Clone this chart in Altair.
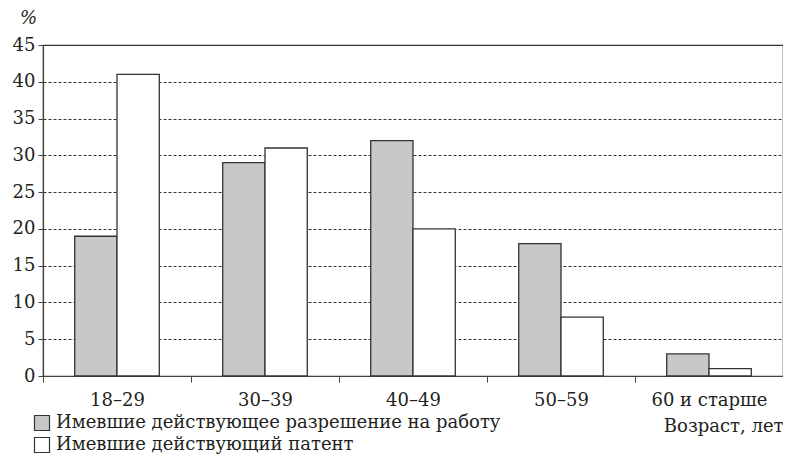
import altair as alt
import pandas as pd

categories = ["18–29", "30–39", "40–49", "50–59", "60 и старше"]
permit = [19, 29, 32, 18, 3]
patent = [41, 31, 20, 8, 1]
series = ["Имевшие действующее разрешение на работу", "Имевшие действующий патент"]
colors = ["#c8c8ca", "#ffffff"]

rows = []
for c, a, b in zip(categories, permit, patent):
    rows.append({"age": c, "series": series[0], "value": a})
    rows.append({"age": c, "series": series[1], "value": b})
df = pd.DataFrame(rows)

FONT = "DejaVu Serif"
TXT = "#231f20"

bars = alt.Chart(df).mark_bar(stroke="#333333", strokeWidth=1.3).encode(
    x=alt.X("age:N", sort=categories,
            scale=alt.Scale(paddingInner=0, paddingOuter=0),
            axis=alt.Axis(title="Возраст, лет", labelAngle=0, tickBand="extent",
                          labelFontSize=18, labelPadding=9, tickSize=6,
                          titleFontSize=18, titleFontWeight="normal",
                          titleAnchor="end", titleAlign="right",
                          titleX=740, titleY=50, titleBaseline="middle",
                          grid=False)),
    xOffset=alt.XOffset("series:N", sort=series,
                        scale=alt.Scale(paddingInner=0, paddingOuter=0.75)),
    y=alt.Y("value:Q", scale=alt.Scale(domain=[0, 45], nice=False),
            axis=alt.Axis(title="%", values=list(range(0, 50, 5)),
                          labelFontSize=18, tickSize=5, labelPadding=3,
                          titleAngle=0, titleFontSize=18, titleFontWeight="normal",
                          titleFontStyle="italic",
                          titleX=-15, titleY=-27, titleBaseline="middle",
                          titleAlign="center",
                          grid=True, gridDash=[3, 2], gridColor="#333333",
                          gridWidth=1)),
    fill=alt.Fill("series:N", sort=series,
                  scale=alt.Scale(domain=series, range=colors),
                  legend=alt.Legend(title=None, orient="none", legendX=-10,
                                    legendY=369, direction="vertical",
                                    symbolType="square", symbolSize=225,
                                    symbolStrokeColor="#333333",
                                    symbolStrokeWidth=1.2,
                                    labelFontSize=18, labelLimit=0,
                                    labelOffset=5, rowPadding=2)),
)

chart = bars.properties(
    width=740, height=331,
    autosize=alt.AutoSizeParams(type="none"),
    padding={"left": 35, "top": 37, "right": 0, "bottom": 80},
).configure(font=FONT).configure_view(
    stroke="#333333", strokeWidth=1.2
).configure_axis(
    domainColor="#444444", tickColor="#444444", domainWidth=1.2,
    labelColor=TXT, titleColor=TXT, labelFont=FONT, titleFont=FONT
).configure_legend(labelColor=TXT, labelFont=FONT)

chart.save("out.html", embed_options={"renderer": "svg", "actions": False})
